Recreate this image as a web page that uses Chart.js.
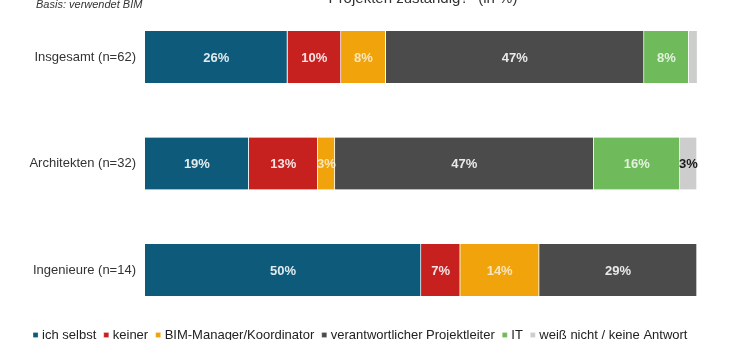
<!DOCTYPE html>
<html>
<head>
<meta charset="utf-8">
<script src="https://cdn.jsdelivr.net/npm/chart.js@4"></script>
<style>
html,body{margin:0;padding:0;background:#fff;}
#wrap{width:730px;height:340px;position:relative;}
</style>
</head>
<body>
<div id="wrap"><canvas id="c" width="730" height="340"></canvas></div>
<script>
const categories = ['Insgesamt (n=62)', 'Architekten (n=32)', 'Ingenieure (n=14)'];
const seriesNames = ['ich selbst', 'keiner', 'BIM-Manager/Koordinator', 'verantwortlicher Projektleiter', 'IT', 'weiß nicht / keine Antwort'];
const ichSelbst = [25.8, 18.8, 50.0];
const keiner = [9.7, 12.5, 7.1];
const bimManager = [8.1, 3.1, 14.3];
const projektleiter = [46.8, 46.9, 28.6];
const it = [8.1, 15.6, null];
const weissNicht = [1.6, 3.1, null];
const seriesColors = ['#0e5a7a', '#c6201f', '#f0a30a', '#4b4b4b', '#6fba5b', '#cdcdcd'];
const labelColors = ['rgba(255,255,255,0.88)', 'rgba(255,255,255,0.88)', 'rgba(255,255,255,0.72)', 'rgba(255,255,255,0.88)', 'rgba(255,255,255,0.8)', '#1a1a1a'];
const titleText = 'Projekten zuständig?" (in %)';
const basisText = 'Basis: verwendet BIM';

const allSeries = [ichSelbst, keiner, bimManager, projektleiter, it, weissNicht];

const textPlugin = {
  id: 'texts',
  afterDraw(chart) {
    const ctx = chart.ctx;
    ctx.save();
    ctx.fillStyle = '#333';
    ctx.font = 'italic 11px "Liberation Sans", Arial, sans-serif';
    ctx.textAlign = 'left';
    ctx.textBaseline = 'middle';
    ctx.fillText(basisText, 36, 5);
    ctx.font = '15px "Liberation Sans", Arial, sans-serif';
    ctx.textAlign = 'center';
    ctx.textBaseline = 'alphabetic';
    ctx.fillText(titleText, 423, 3);
    ctx.restore();
  }
};

const barLabels = {
  id: 'barLabels',
  afterDatasetsDraw(chart) {
    const ctx = chart.ctx;
    ctx.save();
    ctx.font = 'bold 13px "Liberation Sans Narrow", "Arial Narrow", sans-serif';
    ctx.textAlign = 'center';
    ctx.textBaseline = 'middle';
    chart.data.datasets.forEach((ds, di) => {
      const meta = chart.getDatasetMeta(di);
      meta.data.forEach((bar, i) => {
        const v = ds.data[i];
        if (!v || v < 2) return;
        ctx.fillStyle = labelColors[di];
        const cx = (bar.x + bar.base) / 2;
        ctx.fillText(Math.round(v) + '%', cx, bar.y + 1);
      });
    });
    ctx.restore();
  }
};

new Chart(document.getElementById('c'), {
  type: 'bar',
  data: {
    labels: categories,
    datasets: allSeries.map((d, i) => ({
      label: seriesNames[i],
      data: d,
      backgroundColor: seriesColors[i],
      borderColor: '#ffffff',
      borderWidth: {left: 0, top: 0, bottom: 0, right: 1},
      borderSkipped: false,
      barThickness: 52,
      clip: false
    }))
  },
  options: {
    indexAxis: 'y',
    responsive: false,
    animation: false,
    devicePixelRatio: 1,
    layout: { padding: { top: 57, right: 0, left: -7, bottom: -11.5 } },
    scales: {
      x: {
        stacked: true, min: 0, max: 100,
        grid: { display: false, drawTicks: false },
        border: { display: false },
        ticks: { display: false },
        afterFit(scale) { scale.height = 48.5; }
      },
      y: {
        stacked: true,
        offset: false,
        grid: { display: false, drawTicks: false },
        border: { display: false },
        ticks: {
          color: '#333',
          padding: 9,
          font: { family: '"Liberation Sans", Arial, sans-serif', size: 13 }
        },
        afterFit(scale) { scale.width = 152; }
      },
      yRight: {
        position: 'right',
        display: true,
        grid: { display: false, drawTicks: false },
        border: { display: false },
        ticks: { display: false },
        afterFit(scale) { scale.width = 33; }
      }
    },
    plugins: {
      legend: {
        position: 'bottom',
        labels: {
          usePointStyle: true,
          pointStyle: 'rect',
          boxWidth: 0.01,
          boxHeight: 5,
          padding: 10,
          color: '#222',
          font: { family: '"Liberation Sans", Arial, sans-serif', size: 13 }
        }
      },
      tooltip: { enabled: false },
      title: { display: false }
    }
  },
  plugins: [textPlugin, barLabels]
});
</script>
</body>
</html>
